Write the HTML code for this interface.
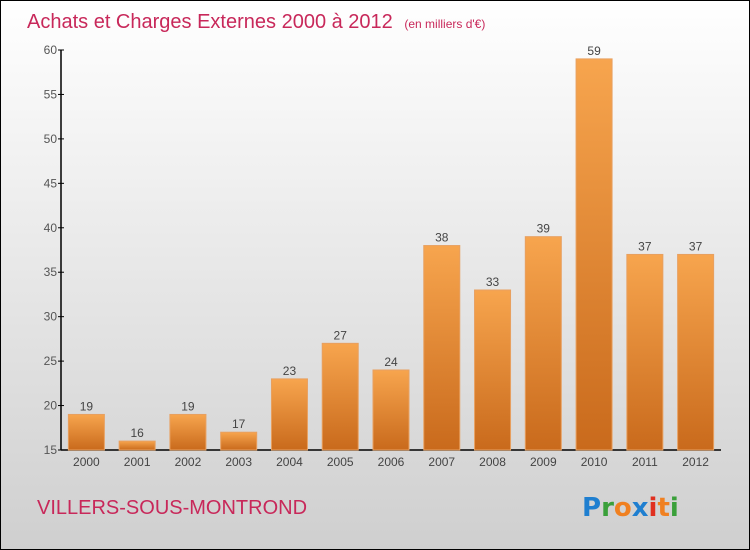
<!DOCTYPE html>
<html><head><meta charset="utf-8"><style>
body{margin:0}
svg{display:block;font-family:"Liberation Sans",sans-serif}
</style></head><body>
<svg width="750" height="550">
<defs>
<linearGradient id="bg" x1="0" y1="0" x2="0" y2="1"><stop offset="0" stop-color="#ffffff"/><stop offset="1" stop-color="#cfcfcf"/></linearGradient>
<linearGradient id="bar" x1="0" y1="0" x2="0" y2="1"><stop offset="0" stop-color="#f7a54e"/><stop offset="1" stop-color="#c96a1c"/></linearGradient>
</defs>
<rect x="0.5" y="0.5" width="749" height="549" fill="url(#bg)" stroke="#000"/>
<text x="27" y="28" font-size="20" fill="#c8285a">Achats et Charges Externes 2000 à 2012 <tspan font-size="12" dx="6">(en milliers d'€)</tspan></text>
<g id="axes"></g>
<g id="bars"></g>
<text x="37" y="514" font-size="20" fill="#c8285a">VILLERS-SOUS-MONTROND</text>
<g font-size="26" font-weight="bold" font-family="DejaVu Sans,sans-serif">
<text x="582" y="516"><tspan fill="#1f7fd0">P</tspan><tspan fill="#3aa03a">r</tspan><tspan fill="#f08020">o</tspan><tspan fill="#1f7fd0">x</tspan><tspan fill="#e03020">i</tspan><tspan fill="#f08020">t</tspan><tspan fill="#3aa03a">i</tspan></text>
</g>
</svg>
<script>
const categories=["2000","2001","2002","2003","2004","2005","2006","2007","2008","2009","2010","2011","2012"];
const values=[19,16,19,17,23,27,24,38,33,39,59,37,37];
const ticks=[15,20,25,30,35,40,45,50,55,60];
const NS="http://www.w3.org/2000/svg";
const x0=61,x1=721,yTop=50,yBot=450,vMin=15,vMax=60;
const y=v=>yBot-(v-vMin)/(vMax-vMin)*(yBot-yTop);
const step=(x1-x0)/categories.length;
const xc=i=>x0+step*(i+0.5);
function mk(t,a,p){const e=document.createElementNS(NS,t);for(const k in a)e.setAttribute(k,a[k]);p.appendChild(e);return e;}
const ax=document.getElementById('axes'),bg=document.getElementById('bars');
let l=mk('line',{x1:x0,y1:yTop,x2:x0,y2:yBot,stroke:'#000','stroke-width':1.5},ax);


l=mk('line',{x1:x0,y1:yBot,x2:x1,y2:yBot,stroke:'#000','stroke-width':1.5},ax);


ticks.forEach(t=>{
 mk('line',{x1:x0-3,y1:y(t),x2:x0+3,y2:y(t),stroke:'#000'},ax);
 const tx=mk('text',{x:x0-4,y:y(t)+4,'font-size':12,fill:'#555','text-anchor':'end'},ax);
 tx.textContent=t;
 
 
});
categories.forEach((c,i)=>{
 const r=mk('rect',{x:xc(i)-18,y:y(values[i]),width:36,height:yBot-y(values[i]),fill:'url(#bar)',stroke:'#e8a060','stroke-width':1},bg);
 
 
 const v=mk('text',{x:xc(i),y:y(values[i])-4,'font-size':12,fill:'#444','text-anchor':'middle'},bg);
 v.textContent=values[i];
 
 
 const xl=mk('text',{x:xc(i),y:466,'font-size':12,fill:'#444','text-anchor':'middle'},bg);
 xl.textContent=c;
 
 
});
</script>
</body></html>
